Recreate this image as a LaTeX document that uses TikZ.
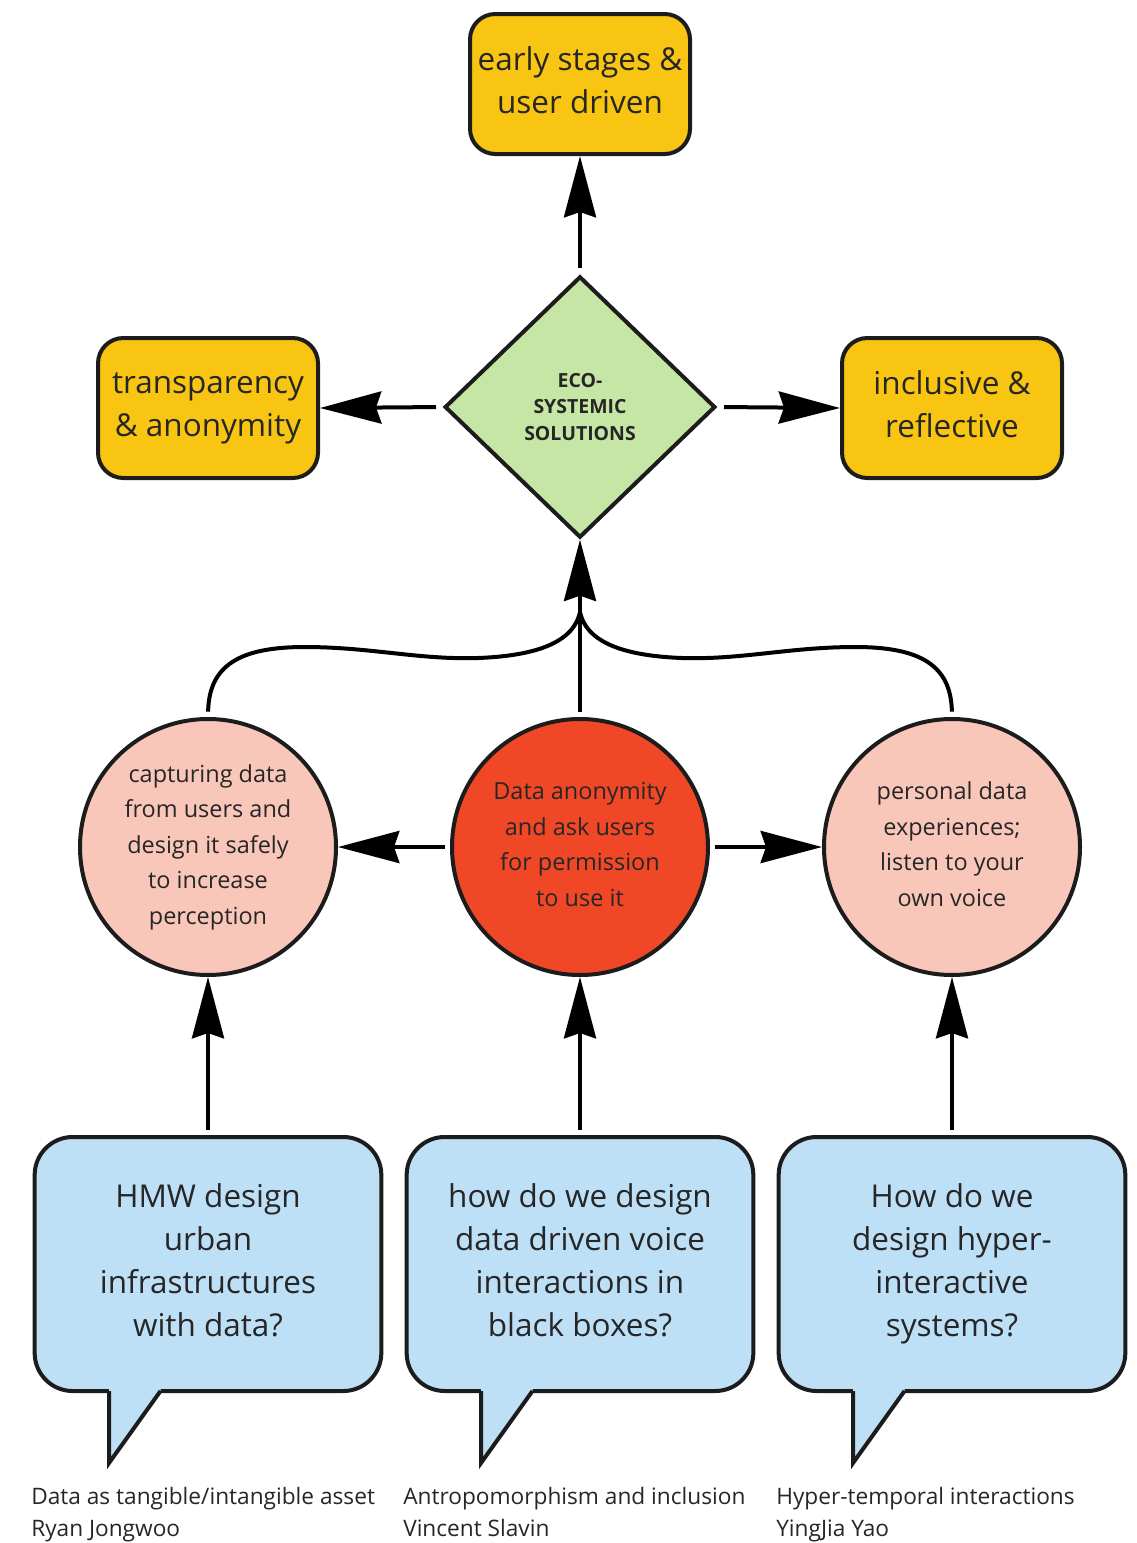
\documentclass[tikz,border=0pt]{standalone}
\usepackage{fontspec}
\setmainfont{Open Sans}
\usetikzlibrary{shapes.geometric,arrows.meta}
\definecolor{boxyellow}{HTML}{F8C512}
\definecolor{diagreen}{HTML}{C6E6A6}
\definecolor{circpink}{HTML}{F9C6BA}
\definecolor{circred}{HTML}{F04727}
\definecolor{bubblue}{HTML}{BEE0F7}
\definecolor{ink}{HTML}{262626}
\definecolor{edge}{HTML}{1C1C1C}
\newcommand{\dsc}{\vphantom{y}}
\begin{document}
\begin{tikzpicture}[x=0.75pt,y=-0.75pt,
  ybox/.style={draw=edge, line width=3pt, fill=boxyellow, rounded corners=19pt,
    minimum width=165pt, minimum height=105pt, align=center, text=ink, inner sep=0pt,
    font=\fontsize{23.6pt}{32.2pt}\selectfont},
  dia/.style={shape=diamond, draw=edge, line width=3pt, fill=diagreen,
    minimum width=203pt, minimum height=196pt, inner sep=0pt, align=center, text=ink,
    font=\bfseries\fontsize{14.6pt}{20.2pt}\selectfont},
  circ/.style={circle, draw=edge, line width=3pt, minimum size=192pt, inner sep=0pt,
    align=center, text=ink, font=\fontsize{17.6pt}{26.6pt}\selectfont},
  bubble/.style={draw=edge, line width=3pt, fill=bubblue, rounded corners=28.5pt,
    minimum width=260pt, minimum height=190.5pt, inner sep=0pt, align=center, text=ink,
    font=\fontsize{23.6pt}{32.2pt}\selectfont},
  tailfill/.style={fill=bubblue},
  tailedge/.style={draw=edge, line width=3pt, line join=miter},
  caption/.style={anchor=base west, inner sep=0pt, text=ink,
    font=\fontsize{17pt}{24pt}\selectfont},
  arr/.style={line width=3pt, draw=black,
    -{Stealth[length=46pt,width=24pt,inset=4pt]}, shorten <=4pt},
  conn/.style={line width=3pt, draw=black},
]
\useasboundingbox (0,0) rectangle (1136,1543);

% top row
\node[ybox] (top) at (580,84) {early stages \&\\user driven\dsc};
\node[ybox] (lbox) at (208,408) {transparency\\\& anonymity};
\node[ybox] (rbox) at (952,408) {inclusive \&\\reflective\dsc};
\node[dia] (dia) at (580,407) {ECO-\\SYSTEMIC\\SOLUTIONS};

% circles
\node[circ, fill=circpink] (c1) at (208,847) {capturing data\\from users and\\design it safely\\to increase\\perception};
\node[circ, fill=circred] (c2) at (580,847) {Data anonymity\\and ask users\\for permission\\to use it\dsc};
\node[circ, fill=circpink] (c3) at (952,847) {personal data\\experiences;\\listen to your\\own voice\dsc};

% speech bubbles
\node[bubble] (b1) at (208,1264) {HMW design\\urban\\infrastructures\\with data?\dsc};
\node[bubble] (b2) at (580,1264) {how do we design\\data driven voice\\interactions in\\black boxes?\dsc};
\node[bubble] (b3) at (952,1264) {How do we\\design hyper-\\interactive\\systems?};

% tails
\foreach \dx in {0,372,744}{
  \fill[tailfill] (109+\dx,1386) -- (160.5+\dx,1386) -- (160.5+\dx,1391) -- (109+\dx,1463) -- cycle;
  \draw[tailedge] (109+\dx,1391) -- (109+\dx,1463) -- (160.5+\dx,1391);
}

% captions
\node[caption] (cap1a) at (31,1504) {Data as tangible/intangible asset};
\node[caption] (cap1b) at (31,1536) {Ryan Jongwoo};
\node[caption] (cap2a) at (403,1504) {Antropomorphism and inclusion};
\node[caption] (cap2b) at (403,1536) {Vincent Slavin};
\node[caption] (cap3a) at (776,1504) {Hyper-temporal interactions};
\node[caption] (cap3b) at (776,1536) {YingJia Yao};

% arrows from diamond
\draw[arr, shorten <=5pt] (dia.north) -- (top.south);
\draw[arr, shorten <=5pt] (dia.west) -- (lbox.east);
\draw[arr, shorten <=5pt] (dia.east) -- (rbox.west);

% arrows between circles
\draw[arr] (c2.west) -- (c1.east);
\draw[arr] (c2.east) -- (c3.west);

% arrows from bubbles
\draw[arr] (b1.north) -- (c1.south);
\draw[arr] (b2.north) -- (c2.south);
\draw[arr] (b3.north) -- (c3.south);

% merging curves into diamond
\coordinate (merge) at (580,612);
\draw[conn, shorten <=4pt] (c1.north) .. controls (209,665) and (240,647) .. (305,647)
  .. controls (370,647) and (420,660) .. (478,658)
  .. controls (530,656) and (573,645) .. (merge);
\draw[conn, shorten <=4pt] (c3.north) .. controls (951,665) and (920,647) .. (855,647)
  .. controls (790,647) and (740,660) .. (682,658)
  .. controls (630,656) and (587,645) .. (merge);
\draw[arr] (c2.north) -- (dia.south);
\end{tikzpicture}
\end{document}
